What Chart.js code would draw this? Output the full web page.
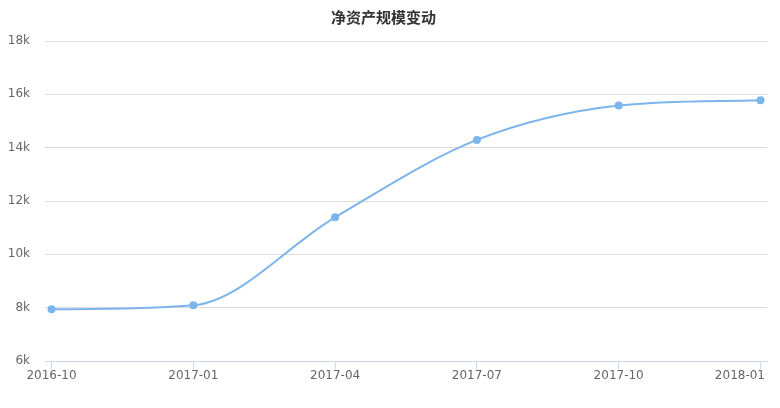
<!DOCTYPE html>
<html>
<head>
<meta charset="utf-8">
<script src="https://cdn.jsdelivr.net/npm/chart.js@4/dist/chart.umd.min.js"></script>
<style>
  html, body { margin: 0; padding: 0; background: #fff; }
  #wrap { width: 780px; height: 408px; position: relative; }
</style>
</head>
<body>
<div id="wrap"><canvas id="navChart"></canvas></div>
<script>
const chartTitle = '净资产规模变动';
const periods = ['2016-10', '2017-01', '2017-04', '2017-07', '2017-10', '2018-01'];
const netAssets = [7940, 8090, 11390, 14290, 15580, 15780];
const yTicks = [6000, 8000, 10000, 12000, 14000, 16000, 18000];

const lineColor = '#7cb5ec';
const labelFont = { family: 'DejaVu Sans', size: 12 };

// x labels drawn by hand so the last one can be pulled back inside the canvas
const xLabelPlugin = {
    id: 'xLabels',
    afterDraw(chart) {
        const scale = chart.scales.x;
        const ctx = chart.ctx;
        ctx.save();
        ctx.font = `${labelFont.size}px ${labelFont.family}`;
        ctx.fillStyle = '#666666';
        ctx.textBaseline = 'middle';
        ctx.textAlign = 'left';
        periods.forEach((label, i) => {
            const px = scale.getPixelForValue(i);
            const w = ctx.measureText(label).width;
            let left = px - w / 2;
            if (left + w > chart.width - 15) left = chart.width - 15 - w;
            if (left < 0) left = 0;
            ctx.fillText(label, left, scale.top + 15);
        });
        ctx.restore();
    }
};

const ctx = document.getElementById('navChart').getContext('2d');
const chart = new Chart(ctx, {
    type: 'line',
    data: {
        datasets: [{
            label: chartTitle,
            data: netAssets.map((v, i) => ({ x: i, y: v })),
            borderColor: lineColor,
            backgroundColor: lineColor,
            borderWidth: 2,
            pointRadius: 4,
            pointBorderWidth: 0,
            pointBackgroundColor: lineColor,
            cubicInterpolationMode: 'monotone',
            fill: false
        }]
    },
    options: {
        responsive: true,
        maintainAspectRatio: false,
        animation: false,
        layout: { padding: { left: 0, right: 13, top: 0, bottom: 0 } },
        plugins: {
            legend: { display: false },
            tooltip: { enabled: false },
            title: {
                display: true,
                text: chartTitle,
                color: '#333333',
                font: { family: 'Noto Sans CJK SC', size: 15, weight: 'bold' },
                padding: { top: 8, bottom: 15 }
            }
        },
        scales: {
            x: {
                type: 'linear',
                min: -0.046,
                max: periods.length - 1 + 0.046,
                afterBuildTicks: s => { s.ticks = periods.map((p, i) => ({ value: i })); },
                afterFit: s => { s.height = 47; s.paddingLeft = 0; s.paddingRight = 0; },
                ticks: { display: false },
                grid: {
                    display: true,
                    drawOnChartArea: false,
                    drawTicks: true,
                    tickLength: 8,
                    color: '#ccd6eb'
                },
                border: { display: true, color: '#ccd6eb', width: 1 }
            },
            y: {
                min: yTicks[0],
                max: yTicks[yTicks.length - 1],
                afterBuildTicks: s => { s.ticks = yTicks.map(v => ({ value: v })); },
                afterFit: s => { s.width = 45; },
                ticks: {
                    color: '#666666',
                    font: labelFont,
                    padding: 15,
                    callback: v => (v / 1000) + 'k'
                },
                grid: { color: '#dcdcdc', drawTicks: false },
                border: { display: false }
            }
        }
    },
    plugins: [xLabelPlugin]
});
</script>
</body>
</html>
